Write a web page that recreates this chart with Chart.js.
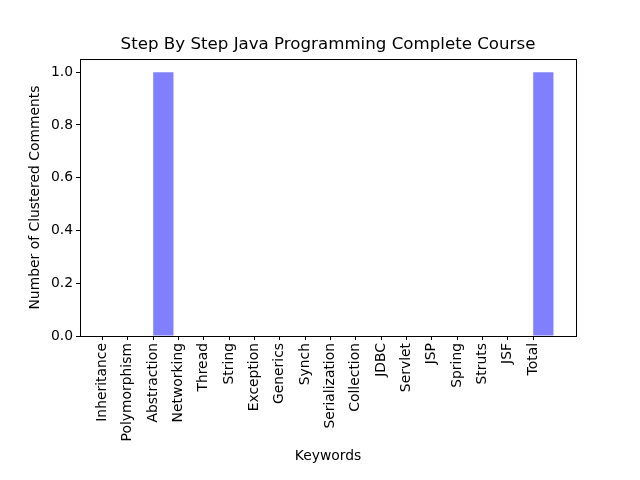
<!DOCTYPE html>
<html>
<head>
<meta charset="utf-8">
<script src="https://cdn.jsdelivr.net/npm/chart.js@4/dist/chart.umd.min.js"></script>
<style>html,body{margin:0;padding:0;background:#fff;}canvas{display:block;}</style>
</head>
<body>
<canvas id="c" width="640" height="480"></canvas>
<script>
const categories = ["Inheritance","Polymorphism","Abstraction","Networking","Thread","String","Exception","Generics","Synch","Serialization","Collection","JDBC","Servlet","JSP","Spring","Struts","JSF","Total"];
const counts = [0,0,1,0,0,0,0,0,0,0,0,0,0,0,0,0,0,1];
const yTicks = [0,0.2,0.4,0.6,0.8,1.0];
const titleText = "Step By Step Java Programming Complete Course";
const xTitle = "Keywords";
const yTitle = "Number of Clustered Comments";

const FONT = "'DejaVu Sans', sans-serif";
const tickFont = {family: FONT, size: 13.9};

const frame = {
  id: 'frame',
  afterDatasetsDraw(chart) {
    const a = chart.chartArea, ctx = chart.ctx;
    ctx.save();
    ctx.strokeStyle = '#000';
    ctx.lineWidth = 1;
    ctx.strokeRect(Math.round(a.left) + 0.5, Math.round(a.top) + 0.5, Math.round(a.right - a.left), Math.round(a.bottom - a.top));
    ctx.fillStyle = '#000';
    ctx.font = "16.67px " + FONT;
    ctx.textAlign = 'center';
    ctx.textBaseline = 'alphabetic';
    ctx.fillText(titleText, (a.left + a.right) / 2, a.top - 10);
    ctx.restore();
  }
};

new Chart(document.getElementById('c'), {
  type: 'bar',
  data: {
    datasets: [{
      data: categories.map((c, i) => ({x: i + 0.4, y: counts[i]})),
      backgroundColor: '#8080ff',
      borderWidth: 0,
      inflateAmount: 0,
      barPercentage: 0.8,
      categoryPercentage: 1.0
    }]
  },
  options: {
    responsive: false,
    animation: false,
    devicePixelRatio: 1,
    layout: {padding: {left: 0, right: 64, top: 59, bottom: 0}},
    plugins: {
      legend: {display: false},
      tooltip: {enabled: false},
      title: {display: false}
    },
    scales: {
      x: {
        type: 'linear', offset: false, min: -0.89, max: 18.69,
        afterBuildTicks: s => { s.ticks = categories.map((c, i) => ({value: i})); },
        afterFit: s => { s.height = 144; },
        ticks: {
          color: '#000', font: tickFont, autoSkip: false, maxRotation: 90, minRotation: 90, padding: 3,
          callback: v => categories[v]
        },
        grid: {offset: false, drawOnChartArea: false, drawTicks: true, tickLength: 4, color: '#000'},
        border: {display: true, color: '#000'},
        title: {display: true, text: xTitle, color: '#000', font: {family: FONT, size: 13.9, lineHeight: 1.2}, padding: {top: 0, bottom: 15.7}}
      },
      y: {
        min: 0, max: 1.05,
        afterBuildTicks: s => { s.ticks = yTicks.map(v => ({value: v})); },
        afterFit: s => { s.width = 80; },
        ticks: {color: '#000', font: tickFont, padding: 3, callback: v => Number(v).toFixed(1)},
        grid: {drawOnChartArea: false, drawTicks: true, tickLength: 4, color: '#000'},
        border: {display: true, color: '#000'},
        title: {display: true, text: yTitle, color: '#000', font: {family: FONT, size: 13.9, lineHeight: 1.2}, padding: {top: 26.7, bottom: 0}}
      }
    }
  },
  plugins: [frame]
});
</script>
</body>
</html>
